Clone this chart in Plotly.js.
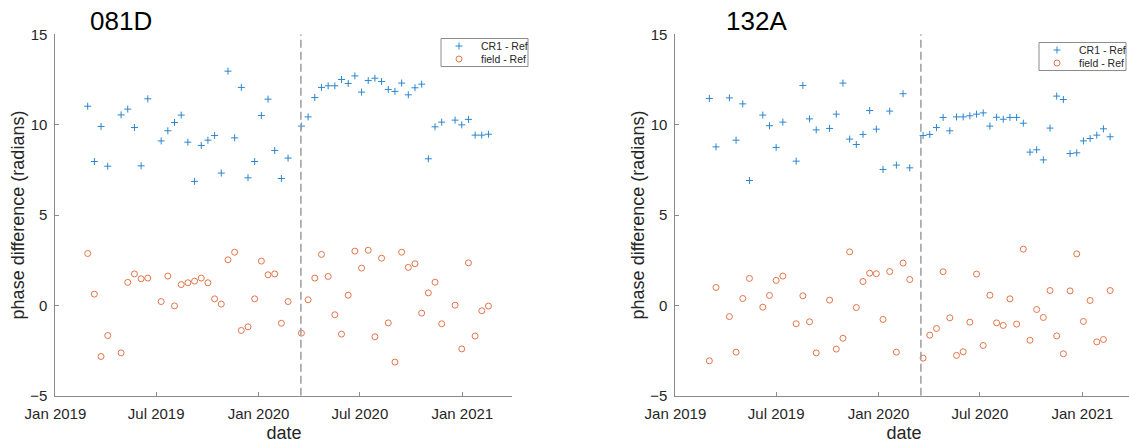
<!DOCTYPE html>
<html><head><meta charset="utf-8">
<script src="https://cdn.plot.ly/plotly-3.0.1.min.js"></script>
<style>html,body{margin:0;padding:0;overflow:hidden;background:#fff}#chart{width:1133px;height:445px}</style>
</head><body><div id="chart"></div><script>
// ---- data ----
const dates081 = ['2019-02-28','2019-03-12','2019-03-24','2019-04-05','2019-04-29','2019-05-11','2019-05-23','2019-06-04','2019-06-16','2019-07-10','2019-07-22','2019-08-03','2019-08-15','2019-08-27','2019-09-08','2019-09-20','2019-10-02','2019-10-14','2019-10-26','2019-11-07','2019-11-19','2019-12-01','2019-12-13','2019-12-25','2020-01-06','2020-01-18','2020-01-30','2020-02-11','2020-02-23','2020-03-18','2020-03-30','2020-04-11','2020-04-23','2020-05-05','2020-05-17','2020-05-29','2020-06-10','2020-06-22','2020-07-04','2020-07-16','2020-07-28','2020-08-09','2020-08-21','2020-09-02','2020-09-14','2020-09-26','2020-10-08','2020-10-20','2020-11-01','2020-11-13','2020-11-25','2020-12-19','2020-12-31','2021-01-12','2021-01-24','2021-02-05','2021-02-17'];
const cr081 = [11.02,7.96,9.90,7.70,10.54,10.86,9.84,7.72,11.43,9.10,9.66,10.12,10.53,9.03,6.86,8.85,9.14,9.40,7.32,12.96,9.27,12.06,7.06,7.96,10.51,11.41,8.57,7.02,8.15,9.92,10.43,11.50,12.06,12.15,12.15,12.50,12.28,12.70,11.80,12.44,12.57,12.39,11.95,11.84,12.30,11.65,12.04,12.24,8.11,9.88,10.14,10.25,9.99,10.29,9.42,9.42,9.47];
const field081 = [2.87,0.62,-2.83,-1.67,-2.63,1.27,1.74,1.47,1.51,0.21,1.62,-0.03,1.15,1.25,1.34,1.51,1.25,0.36,0.07,2.52,2.94,-1.39,-1.19,0.36,2.45,1.69,1.74,-0.99,0.21,-1.54,0.31,1.51,2.82,1.60,-0.52,-1.59,0.56,3.00,2.06,3.05,-1.74,2.61,-0.97,-3.14,2.94,2.10,2.30,-0.43,0.69,1.28,-1.02,0.01,-2.41,2.35,-1.70,-0.30,-0.04];
const dates132 = ['2019-03-03','2019-03-15','2019-04-08','2019-04-20','2019-05-02','2019-05-14','2019-06-07','2019-06-19','2019-07-01','2019-07-13','2019-08-06','2019-08-18','2019-08-30','2019-09-11','2019-10-05','2019-10-17','2019-10-29','2019-11-10','2019-11-22','2019-12-04','2019-12-16','2019-12-28','2020-01-09','2020-01-21','2020-02-02','2020-02-14','2020-02-26','2020-03-21','2020-04-02','2020-04-14','2020-04-26','2020-05-08','2020-05-20','2020-06-01','2020-06-13','2020-06-25','2020-07-07','2020-07-19','2020-07-31','2020-08-12','2020-08-24','2020-09-05','2020-09-17','2020-09-29','2020-10-11','2020-10-23','2020-11-04','2020-11-16','2020-11-28','2020-12-10','2020-12-22','2021-01-03','2021-01-15','2021-01-27','2021-02-08','2021-02-20'];
const cr132 = [11.45,8.77,11.48,9.14,11.15,6.91,10.53,9.94,8.74,10.14,7.98,12.17,10.32,9.71,9.79,10.58,12.30,9.20,8.90,9.46,10.78,9.75,7.52,10.75,7.76,11.71,7.61,9.40,9.46,9.84,10.40,9.66,10.43,10.43,10.49,10.58,10.65,9.92,10.41,10.30,10.40,10.40,10.08,8.48,8.61,8.05,9.81,11.58,11.39,8.40,8.44,9.10,9.23,9.42,9.77,9.33];
const field132 = [-3.07,0.99,-0.62,-2.59,0.38,1.49,-0.10,0.55,1.38,1.62,-1.02,0.53,-0.91,-2.63,0.29,-2.42,-1.82,2.96,-0.12,1.32,1.78,1.75,-0.78,1.87,-2.59,2.34,1.43,-2.92,-1.65,-1.28,1.86,-0.69,-2.77,-2.57,-0.93,1.73,-2.22,0.56,-0.97,-1.11,0.36,-1.04,3.11,-1.93,-0.23,-0.67,0.82,-1.69,-2.68,0.80,2.85,-0.89,0.27,-2.02,-1.89,0.82];
const panelTitles = ['081D', '132A'];
const seriesNames = ['CR1 - Ref', 'field - Ref'];
const eventDates = ['2020-03-17', '2020-03-17'];
const xRange = ['2019-01-01', '2021-04-01'];
const yRange = [-5, 15];
const yTickVals = [-5, 0, 5, 10, 15];
const xTickVals = ['2019-01-01', '2019-07-01', '2020-01-01', '2020-07-01', '2021-01-01'];
const xTickText = ['Jan 2019', 'Jul 2019', 'Jan 2020', 'Jul 2020', 'Jan 2021'];
const xTitle = 'date';
const yTitle = 'phase difference (radians)';

// ---- styling ----
const W = 1133, H = 445;
const FONT = 'Liberation Sans, Arial, Helvetica, sans-serif';
const BLUE = '#2c86cf', ORANGE = '#e2754a', AXIS = '#8a8a8a', TXT = '#262626';
const px = x => x / W, py = y => 1 - y / H;

const panels = [
  {dates: dates081, cr: cr081, field: field081, x0: 55.4, x1: 512.4, title: panelTitles[0], titleX: 121, legend: [441, 38.5], event: eventDates[0]},
  {dates: dates132, cr: cr132, field: field132, x0: 675.4, x1: 1132.4, title: panelTitles[1], titleX: 757, legend: [1039, 42.5], event: eventDates[1]}
];
const yTop = 34.3, yBot = 395.7;

const traces = [];
const layout = {
  width: W, height: H,
  margin: {l: 0, r: 0, t: 0, b: 0},
  paper_bgcolor: '#fff', plot_bgcolor: '#fff',
  showlegend: false,
  font: {family: FONT, color: TXT},
  shapes: [], annotations: []
};

panels.forEach((p, i) => {
  const n = i === 0 ? '' : String(i + 1);
  const xa = 'x' + n, ya = 'y' + n;
  traces.push({
    x: p.dates, y: p.cr, type: 'scatter', mode: 'markers', name: seriesNames[0],
    xaxis: xa, yaxis: ya, cliponaxis: false,
    marker: {symbol: 'cross-thin-open', size: 5, color: BLUE, line: {width: 1, color: BLUE}}
  });
  traces.push({
    x: p.dates, y: p.field, type: 'scatter', mode: 'markers', name: seriesNames[1],
    xaxis: xa, yaxis: ya, cliponaxis: false,
    marker: {symbol: 'circle-open', size: 6, color: ORANGE, line: {width: 1, color: ORANGE}}
  });
  const common = {
    showline: true, linecolor: AXIS, linewidth: 1, mirror: false,
    ticks: 'inside', ticklen: 4, tickcolor: AXIS, tickwidth: 1,
    showgrid: false, zeroline: false,
    tickfont: {size: 15, color: TXT, family: FONT}
  };
  layout['xaxis' + n] = Object.assign({}, common, {
    type: 'date', range: xRange, domain: [px(p.x0), px(p.x1)], anchor: ya,
    tickvals: xTickVals, ticktext: xTickText, ticklabelstandoff: 4,
    title: {text: xTitle, font: {size: 18, color: TXT, family: FONT}, standoff: 5}
  });
  layout['yaxis' + n] = Object.assign({}, common, {
    range: yRange, domain: [py(yBot), py(yTop)], anchor: xa,
    tickvals: yTickVals, ticklabelstandoff: 4,
    title: {text: yTitle, font: {size: 18, color: TXT, family: FONT}, standoff: 0}
  });
  // dashed event line
  layout.shapes.push({type: 'line', xref: xa, yref: ya, x0: p.event, x1: p.event, y0: yRange[0], y1: yRange[1],
    line: {color: '#a3a3a3', width: 1.6, dash: '8px,4px'}});
  // panel title
  layout.annotations.push({text: p.title, xref: 'paper', yref: 'paper', x: px(p.titleX), y: py(20.5),
    xanchor: 'center', yanchor: 'middle', showarrow: false, font: {size: 26, color: '#000', family: FONT}});
  // legend box
  const [lx, ly] = p.legend, lw = 87, lh = 28;
  layout.shapes.push({type: 'rect', xref: 'paper', yref: 'paper', x0: px(lx), x1: px(lx + lw), y0: py(ly + lh), y1: py(ly),
    line: {color: '#8c8c8c', width: 1}, fillcolor: '#fff', layer: 'above'});
  const r1 = ly + 7.5, r2 = ly + 20.5, mx = lx + 18;
  layout.shapes.push({type: 'line', xref: 'paper', yref: 'paper', x0: px(mx - 3.5), x1: px(mx + 3.5), y0: py(r1), y1: py(r1), line: {color: BLUE, width: 1}, layer: 'above'});
  layout.shapes.push({type: 'line', xref: 'paper', yref: 'paper', x0: px(mx), x1: px(mx), y0: py(r1 - 3.5), y1: py(r1 + 3.5), line: {color: BLUE, width: 1}, layer: 'above'});
  layout.shapes.push({type: 'circle', xref: 'paper', yref: 'paper', x0: px(mx - 3), x1: px(mx + 3), y0: py(r2 + 3), y1: py(r2 - 3), line: {color: ORANGE, width: 1}, layer: 'above'});
  [[seriesNames[0], r1], [seriesNames[1], r2]].forEach(([t, yy]) => {
    layout.annotations.push({text: t, xref: 'paper', yref: 'paper', x: px(lx + 38), y: py(yy),
      xanchor: 'left', yanchor: 'middle', showarrow: false, font: {size: 10.5, color: TXT, family: FONT}});
  });
});

Plotly.newPlot('chart', traces, layout, {staticPlot: true, displayModeBar: false});
</script></body></html>
